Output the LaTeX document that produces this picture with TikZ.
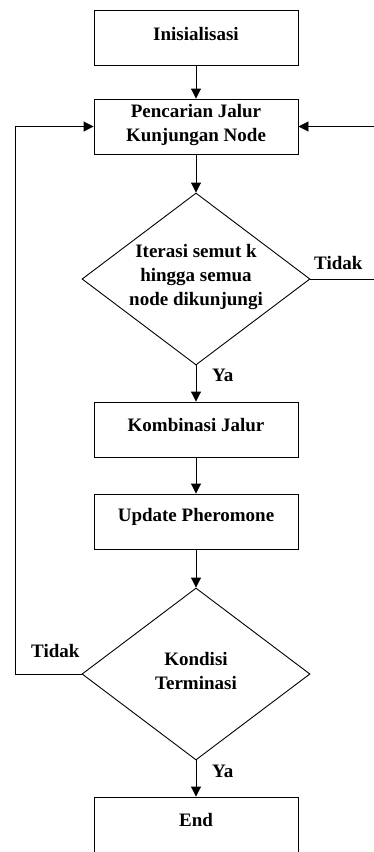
\documentclass[tikz,border=0pt]{standalone}
\usepackage{fontspec}
\setmainfont{Liberation Serif}
\usetikzlibrary{shapes.geometric,arrows.meta}
\begin{document}
\begin{tikzpicture}[x=1pt,y=-1pt,
  box/.style={draw,line width=0.9pt,minimum width=204pt,minimum height=55pt,inner sep=0pt},
  dia/.style={draw,diamond,line width=0.9pt,minimum width=228pt,minimum height=172pt,inner sep=0pt},
  txt/.style={font=\fontsize{19}{24}\selectfont\bfseries,align=center,inner sep=0pt},
  arr/.style={line width=0.9pt,-{Triangle[length=10pt,width=10pt]}},
  ln/.style={line width=0.9pt}]
\useasboundingbox (0,0) rectangle (374,852);
\node[box] (init) at (196,37.5) {};
\node[txt] (tinit) at (196,34) {Inisialisasi};
\node[box] (penc) at (196,126.5) {};
\node[txt] (tpenc) at (196,125) {Pencarian Jalur\\Kunjungan Node};
\node[dia] (d1) at (196,279) {};
\node[txt] (td1) at (196,277) {Iterasi semut k\\hingga semua\\node dikunjungi};
\node[box] (komb) at (196,429.5) {};
\node[txt] (tkomb) at (196,425) {Kombinasi Jalur};
\node[box] (upd) at (196,521.5) {};
\node[txt] (tupd) at (196,517) {Update Pheromone};
\node[dia] (d2) at (196,674) {};
\node[txt] (td2) at (196,671) {Kondisi\\Terminasi};
\node[box,minimum height=60pt] (end) at (196,827) {};
\node[txt] (tend) at (196,820) {End};
\coordinate (rc) at (380,279);
\coordinate (lc) at (15,674);
\draw[arr] (init) -- (penc);
\draw[arr] (penc) -- (d1.north);
\draw[arr] (d1.south) -- (komb);
\draw[arr] (komb) -- (upd);
\draw[arr] (upd) -- (d2.north);
\draw[arr] (d2.south) -- (end);
\draw[arr] (d1.east) -- (rc) |- (penc.east);
\draw[arr] (d2.west) -- (lc) |- (penc.west);
\node[txt,anchor=west] (ltid1) at (314,263) {Tidak};
\node[txt,anchor=west] (lya1) at (212,375) {Ya};
\node[txt,anchor=west] (ltid2) at (31,651) {Tidak};
\node[txt,anchor=west] (lya2) at (212,771) {Ya};
\end{tikzpicture}
\end{document}
